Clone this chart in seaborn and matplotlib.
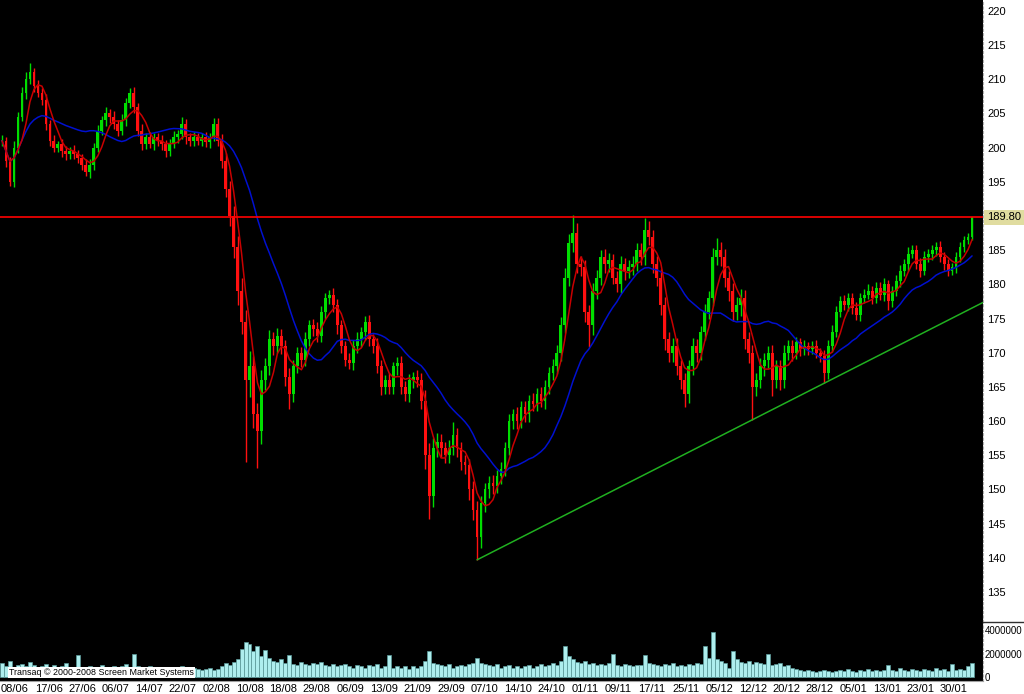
import numpy as np
import pandas as pd
import seaborn as sns
import matplotlib
matplotlib.use('Agg')
import matplotlib.pyplot as plt
import matplotlib.transforms as mtransforms
from matplotlib.lines import Line2D

# closing prices, one bar every ~4 px of the reference
close = [201, 198, 195, 200, 204.5, 208, 210, 211, 209, 208,
         207, 203.5, 201, 200, 200.5, 199.5, 199, 199.5, 199, 198.5,
         197.5, 196.5, 197.5, 200, 202.5, 204, 205, 204.5, 203.5, 202.5,
         204, 206.5, 208, 206, 202.5, 200.5, 201.5, 200.5, 201.5, 201,
         200.5, 199.5, 200.5, 201.5, 202, 203.5, 201.5, 201, 201.5, 201,
         201.5, 200.8, 201.5, 203.5, 201, 198, 194, 190, 185.5, 179,
         174.5, 166, 168, 161, 158.5, 166, 168, 172, 171, 172.5,
         171, 166.5, 164, 168, 170, 169, 172, 174, 173.5, 172.5,
         176, 178, 178.5, 177, 174, 171, 169, 168.5, 171, 172,
         173, 174.5, 172, 171, 168, 165, 166, 165, 168, 168.5,
         165, 164, 166, 166.5, 166, 163, 155, 149, 156, 157,
         156, 155, 156, 158, 156, 154, 153.5, 150, 147, 143,
         148, 150, 151, 150.5, 152, 153, 156, 160, 161, 160,
         162, 161, 163, 162.5, 164, 163, 165, 167, 168, 170,
         174, 181, 186, 187.5, 183, 182.5, 176, 174, 179, 181,
         184, 183, 183.5, 181, 180, 183, 182, 182.5, 183, 185,
         184, 188, 187, 183, 181, 177, 172, 170, 171, 168,
         166, 164, 168, 171, 170, 173, 176, 178, 184, 185,
         184, 181, 179, 176, 177, 178, 172, 170, 165, 166,
         168, 169, 170, 166, 168, 166, 170, 171, 170, 171.5,
         170.5, 171, 170.5, 171, 170, 169.5, 167, 171, 173, 176,
         177.5, 177, 178, 176.5, 175.5, 178, 178.5, 179, 178, 179.5,
         178.5, 180, 177.5, 179, 180.5, 182, 183, 184.5, 185, 183,
         182, 184, 184.5, 185, 185.5, 184, 183, 182, 182.5, 184,
         185.5, 186.5, 187, 189.8]

# upper / lower shadow beyond the body
up_wick = [0.8, 0.6, 0.7, 0.9, 0.7, 0.8, 1.0, 1.4, 0.6, 0.9,
           0.7, 0.8, 0.6, 0.9, 0.5, 0.8, 0.7, 0.6, 0.9, 0.7,
           0.6, 0.8, 0.9, 0.7, 0.8, 0.6, 0.9, 0.7, 0.8, 0.6,
           0.9, 0.7, 0.7, 0.8, 0.6, 0.9, 0.7, 0.8, 0.6, 0.7,
           0.8, 0.6, 0.7, 0.9, 0.6, 1.0, 0.7, 0.6, 0.8, 0.7,
           0.6, 0.8, 0.7, 0.9, 0.8, 1.0, 1.2, 1.1, 1.4, 1.6,
           2.0, 1.8, 2.2, 1.5, 1.6, 1.4, 1.2, 1.3, 1.0, 1.1,
           1.0, 0.9, 1.2, 1.0, 0.8, 0.9, 1.1, 0.8, 0.9, 1.0,
           0.9, 0.8, 0.7, 1.0, 0.9, 0.8, 0.7, 0.9, 0.8, 1.0,
           0.8, 0.9, 1.0, 0.8, 1.2, 0.9, 0.8, 1.0, 0.7, 0.9,
           1.0, 0.8, 0.9, 0.7, 0.9, 1.0, 1.6, 1.8, 1.5, 1.2,
           1.1, 1.0, 1.2, 1.9, 1.0, 0.9, 1.1, 1.0, 1.2, 1.3,
           1.1, 1.0, 0.9, 1.1, 0.8, 1.0, 0.9, 1.1, 0.8, 1.0,
           0.9, 1.0, 0.8, 1.1, 0.9, 1.0, 1.0, 0.9, 1.1, 1.2,
           1.2, 1.4, 1.3, 2.7, 1.5, 1.2, 1.1, 1.0, 1.2, 1.1,
           1.0, 1.2, 1.1, 0.9, 1.0, 1.1, 0.9, 1.0, 1.2, 1.0,
           1.1, 1.7, 1.2, 1.0, 1.1, 1.3, 1.2, 1.0, 1.1, 1.2,
           1.0, 1.1, 1.0, 1.2, 1.0, 0.9, 1.1, 1.0, 1.3, 1.8,
           1.2, 1.1, 1.0, 1.2, 1.1, 1.3, 1.2, 1.0, 1.1, 1.0,
           1.2, 0.9, 1.0, 1.1, 0.9, 1.0, 1.1, 0.8, 0.9, 0.8,
           0.7, 0.8, 0.6, 0.7, 0.8, 0.7, 0.9, 0.8, 1.0, 0.9,
           0.8, 0.9, 0.7, 0.8, 0.9, 0.7, 0.8, 1.0, 0.8, 0.9,
           0.8, 0.9, 0.7, 0.8, 0.9, 0.8, 0.7, 0.9, 0.8, 0.7,
           0.8, 0.9, 0.7, 0.8, 0.7, 0.9, 0.8, 0.7, 0.6, 0.8,
           0.7, 0.6, 0.5, 0.0]

down_wick = [0.8, 0.9, 0.6, 0.7, 0.8, 0.6, 0.9, 0.7, 0.8, 0.6,
             0.7, 0.9, 0.8, 0.6, 0.7, 0.9, 0.8, 0.7, 0.6, 0.8,
             0.7, 0.6, 0.9, 0.8, 0.7, 0.6, 0.8, 0.9, 0.7, 0.8,
             0.6, 0.8, 0.7, 0.9, 0.8, 0.9, 0.7, 0.6, 0.8, 0.7,
             0.8, 0.9, 0.7, 0.6, 0.8, 0.7, 0.9, 0.8, 0.7, 0.6,
             0.8, 0.7, 0.9, 0.6, 0.8, 1.0, 1.2, 1.4, 1.6, 2.0,
             1.8, 12.0, 2.5, 2.0, 5.3, 1.8, 1.5, 1.2, 1.3, 1.1,
             1.2, 1.4, 2.2, 1.2, 1.0, 1.1, 0.9, 1.0, 1.1, 0.9,
             1.0, 1.1, 0.9, 1.0, 1.2, 1.1, 1.0, 0.9, 1.1, 1.0,
             1.1, 1.2, 1.0, 1.1, 0.9, 1.2, 1.0, 1.1, 1.0, 1.2,
             1.1, 1.0, 1.2, 1.1, 1.0, 1.3, 2.0, 3.4, 1.5, 1.2,
             1.3, 1.1, 1.2, 1.0, 1.2, 1.1, 1.3, 1.6, 1.5, 3.3,
             1.5, 1.3, 1.2, 1.1, 1.0, 1.2, 1.1, 1.0, 1.2, 1.1,
             1.0, 1.1, 1.2, 1.0, 1.1, 1.0, 1.2, 1.1, 1.0, 1.1,
             1.2, 1.1, 1.3, 1.2, 1.4, 1.3, 1.5, 3.1, 1.4, 1.2,
             1.1, 1.3, 1.2, 1.0, 1.1, 1.2, 1.3, 1.1, 1.2, 1.0,
             1.2, 1.1, 1.3, 1.4, 1.2, 1.5, 1.6, 1.3, 1.4, 1.2,
             1.3, 2.0, 1.4, 1.2, 1.3, 1.1, 1.2, 1.0, 1.1, 1.2,
             1.3, 1.4, 1.5, 1.3, 1.2, 1.6, 1.4, 1.5, 4.8, 1.3,
             1.2, 1.4, 1.3, 2.4, 1.2, 1.5, 1.1, 1.0, 1.2, 0.9,
             1.0, 0.8, 0.9, 0.7, 0.8, 0.9, 1.4, 0.8, 0.9, 0.7,
             0.8, 0.7, 0.9, 0.8, 0.7, 0.9, 0.8, 0.7, 0.9, 0.8,
             0.8, 0.9, 1.2, 0.8, 0.7, 0.9, 0.8, 1.0, 0.7, 0.8,
             0.9, 0.7, 0.8, 0.9, 0.8, 0.7, 0.9, 0.8, 0.7, 0.8,
             0.7, 0.8, 0.6, 0.5]

# volume in millions
volume_m = [1.2, 0.9, 1.4, 0.8, 1.0, 1.1, 0.9, 1.3, 1.0, 0.8,
            0.9, 1.1, 0.8, 1.0, 0.7, 0.9, 1.2, 0.8, 0.7, 1.9,
            0.8, 0.7, 0.9, 0.8, 0.7, 1.0, 0.8, 0.7, 0.9, 0.8,
            0.9, 1.1, 0.8, 2.0, 0.9, 0.8, 0.7, 0.9, 0.8, 0.7,
            0.8, 0.7, 0.6, 0.8, 0.7, 0.9, 0.7, 0.6, 0.8, 0.7,
            0.6, 0.7, 0.8, 0.6, 0.7, 0.9, 1.2, 1.0, 1.3, 1.5,
            2.4, 3.0, 2.8, 2.2, 2.6, 1.8, 2.3, 1.6, 1.4, 1.3,
            1.5, 1.2, 1.9, 1.1, 1.0, 1.3, 1.1, 1.0, 1.2, 1.1,
            1.3, 1.0, 0.9, 1.1, 0.9, 1.0, 1.1, 0.9, 0.8, 1.0,
            0.9, 0.8, 1.0, 0.9, 1.1, 0.8, 0.9, 1.9, 0.8, 0.9,
            0.8, 0.9, 0.7, 0.9, 0.8, 0.9, 1.4, 2.2, 1.2, 1.1,
            1.0, 0.9, 1.1, 0.8, 0.9, 1.0, 0.9, 1.1, 1.2, 1.6,
            1.2, 1.1, 1.0, 0.9, 1.1, 0.8, 0.9, 1.0, 0.8, 0.9,
            0.8, 0.9, 1.0, 0.8, 0.9, 1.1, 0.9, 1.0, 1.2, 1.0,
            1.4, 2.6, 1.8, 1.5, 1.3, 1.2, 1.4, 1.1, 1.2, 1.0,
            1.1, 1.0, 1.2, 2.0, 1.0, 0.9, 1.1, 1.0, 0.9, 1.0,
            1.0, 1.9, 1.2, 1.1, 1.0, 0.9, 1.1, 1.0, 1.2, 0.9,
            1.0, 0.9, 1.1, 1.0, 1.2, 1.1, 2.6, 1.6, 3.8, 1.5,
            1.4, 1.2, 0.8, 2.2, 1.5, 1.3, 1.2, 1.4, 1.1, 1.3,
            1.2, 1.1, 2.0, 1.0, 1.1, 1.2, 0.9, 1.0, 0.8, 0.7,
            0.6, 0.5, 0.6, 0.5, 0.4, 0.5, 0.6, 0.5, 0.4, 0.5,
            0.6, 0.5, 0.7, 0.5, 0.4, 0.6, 0.5, 0.7, 0.5, 0.6,
            0.5, 0.6, 1.0, 0.6, 0.5, 0.8, 0.6, 0.5, 0.7, 0.6,
            0.5, 0.7, 0.6, 0.5, 0.8, 0.6, 0.7, 0.5, 1.1, 0.6,
            0.7, 0.6, 0.9, 1.2]

date_labels = ['08/06', '17/06', '27/06', '06/07', '14/07', '22/07', '02/08',
               '10/08', '18/08', '29/08', '06/09', '13/09', '21/09', '29/09',
               '07/10', '14/10', '24/10', '01/11', '09/11', '17/11', '25/11',
               '05/12', '12/12', '20/12', '28/12', '05/01', '13/01', '23/01',
               '30/01']

price_ticks = [135, 140, 145, 150, 155, 160, 165, 170, 175, 180, 185,
               195, 200, 205, 210, 215, 220]
volume_ticks = [0, 2000000, 4000000]

sns.set_style('dark')
plt.rcParams['font.family'] = ['Liberation Sans', 'DejaVu Sans']

df = pd.DataFrame({'close': close, 'up': up_wick, 'dn': down_wick,
                   'volume': np.array(volume_m) * 1e6})
df['idx'] = np.arange(len(df))
df['open'] = df['close'].shift(1).fillna(df['close'].iloc[0])
df['high'] = df[['open', 'close']].max(axis=1) + df['up']
df['low'] = df[['open', 'close']].min(axis=1) - df['dn']
df['ma_fast'] = df['close'].rolling(5, min_periods=1).mean()
df['ma_slow'] = df['close'].rolling(20, min_periods=1).mean()

n = len(df)
xmin, xmax = -0.5, n + 1.75

fig = plt.figure(figsize=(10.24, 6.94), dpi=100, facecolor='white')
ax = fig.add_axes([0, 0.1037, 0.96, 0.8963])
axv = fig.add_axes([0, 0.0187, 0.96, 0.085], sharex=ax)
for a in (ax, axv):
    a.set_facecolor('black')
    for s in a.spines.values():
        s.set_visible(False)
    a.spines['right'].set_visible(True)
    a.spines['right'].set_color('#b0b0b0')
    a.spines['right'].set_linestyle((0, (2, 2)))
    a.spines['right'].set_linewidth(0.8)
    a.grid(False)
axv.spines['bottom'].set_visible(True)
axv.spines['bottom'].set_color('#a0a0a0')

# candles
up = df['close'] >= df['open']
colors = np.where(up, '#00dd00', '#ff1010')
ax.vlines(df['idx'], df['low'], df['high'], colors=colors, lw=1.0, zorder=2)
ax.bar(df['idx'], (df['close'] - df['open']).where(lambda s: s.abs() > 0.15, 0.15),
       bottom=df['open'], width=0.7, color=colors, linewidth=0, zorder=2)

# moving averages
sns.lineplot(data=df, x='idx', y='ma_slow', ax=ax, color='#0010d0', lw=1.1, zorder=3)
sns.lineplot(data=df, x='idx', y='ma_fast', ax=ax, color='#c80000', lw=1.1, zorder=4)

# last price line
last = df['close'].iloc[-1]
ax.axhline(last, color='#ff0000', lw=1.2, zorder=5)

# support line through the lowest low and the flattest later low
i1 = int(df['low'].idxmin())
later = df.iloc[i1 + 1:]
slopes = (later['low'] - df['low'].iloc[i1]) / (later['idx'] - i1)
slope = slopes.min()
xs = np.array([i1, xmax])
ax.plot(xs, df['low'].iloc[i1] + slope * (xs - i1), color='#20b020', lw=1.1, zorder=5)

ax.set_xlim(xmin, xmax)
ax.set_ylim(130.6, 221.6)
ax.yaxis.tick_right()
ax.set_yticks(price_ticks)
ax.set_yticklabels([str(t) for t in price_ticks])
ax.tick_params(axis='y', length=0, pad=3, labelsize=8, labelcolor='black')
ax.tick_params(axis='x', bottom=False, labelbottom=False)
ax.set_xlabel('')
ax.set_ylabel('')

trans = mtransforms.blended_transform_factory(ax.transAxes, ax.transData)
ax.text(1.004, last, '%.2f' % last, transform=trans, ha='left', va='center',
        fontsize=8, color='black',
        bbox=dict(boxstyle='square,pad=0.25', fc='#e0dca0', ec='none'))

# separator between price and volume scales
fig.add_artist(Line2D([0.96, 1.0], [0.1037, 0.1037], transform=fig.transFigure,
                      color='#303030', lw=1.0))

# volume
axv.bar(df['idx'], df['volume'], width=1.0, color='#aeeeee',
        edgecolor='#5a9a9a', linewidth=0.5)
axv.set_ylim(-340000, 4680000)
axv.yaxis.tick_right()
axv.set_yticks(volume_ticks)
axv.set_yticklabels([str(t) for t in volume_ticks])
axv.tick_params(axis='y', length=0, pad=1, labelsize=7, labelcolor='black')
tick_pos = 3.26 + 8.4 * np.arange(len(date_labels))
axv.set_xticks(tick_pos)
axv.set_xticklabels(date_labels)
axv.tick_params(axis='x', length=0, pad=2, labelsize=8, labelcolor='black')
axv.set_xlim(xmin, xmax)
axv.text(0.009, 0.07, 'Transaq \u00a9 2000-2008 Screen Market Systems',
         transform=axv.transAxes, fontsize=6.4, color='black', ha='left', va='bottom',
         bbox=dict(boxstyle='square,pad=0.15', fc='white', ec='none'), zorder=10)

fig.savefig('out.png', dpi=100, facecolor='white')
